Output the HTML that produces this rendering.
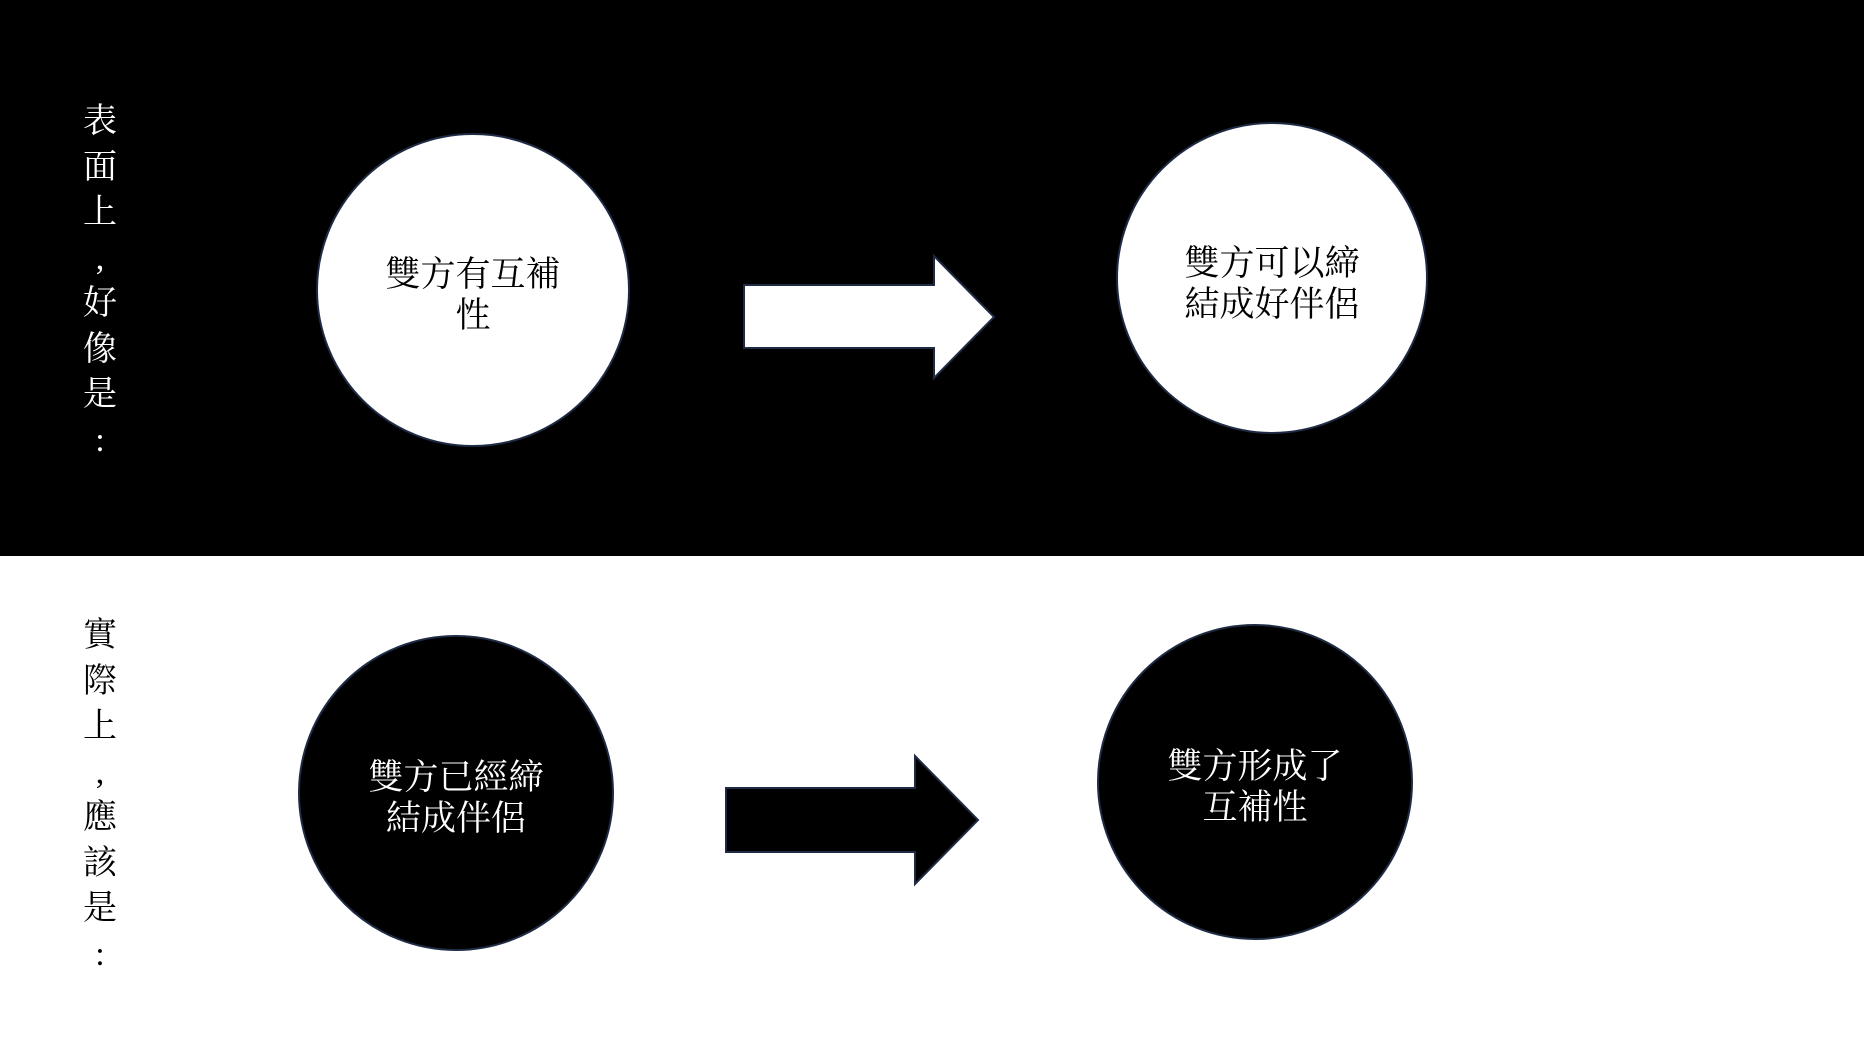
<!DOCTYPE html>
<html><head><meta charset="utf-8"><style>
body{margin:0;width:1864px;height:1047px;background:#fff;position:relative;overflow:hidden;font-family:"Liberation Serif","Noto Serif CJK SC","Noto Sans CJK TC",serif;}
.band{position:absolute;left:0;top:0;width:1864px;height:556px;background:#000;}
.c{position:absolute;border-radius:50%;box-sizing:border-box;border:2px solid #1f2a44;display:flex;align-items:center;justify-content:center;text-align:center;font-size:35px;line-height:41px;}
.v{position:absolute;left:80px;width:40px;text-align:center;font-size:34px;line-height:45.5px;}
</style></head><body>
<div class="band"></div>
<div class="v" style="top:99px;color:#fff">表<br>面<br>上<br>,<br>好<br>像<br>是<br>:</div>
<div class="v" style="top:613px;color:#000">實<br>際<br>上<br>,<br>應<br>該<br>是<br>:</div>
<div class="c" style="left:316px;top:133px;width:314px;height:314px;background:#fff;color:#000"><div style="margin-top:10px">雙方有互補<br>性</div></div>
<div class="c" style="left:1116px;top:122px;width:312px;height:312px;background:#fff;color:#000"><div style="margin-top:12px">雙方可以締<br>結成好伴侶</div></div>
<div class="c" style="left:298px;top:635px;width:316px;height:316px;background:#000;color:#fff"><div style="margin-top:10px">雙方已經締<br>結成伴侶</div></div>
<div class="c" style="left:1097px;top:624px;width:316px;height:316px;background:#000;color:#fff"><div style="margin-top:10px">雙方形成了<br>互補性</div></div>
<svg width="1864" height="1047" style="position:absolute;left:0;top:0">
<polygon points="744,285 934,285 934,256 994,317 934,378 934,348 744,348" fill="#fff" stroke="#1f2a44" stroke-width="2"/>
<polygon points="726,788 915,788 915,756 978,820 915,884 915,852 726,852" fill="#000" stroke="#1f2a44" stroke-width="2"/>
</svg>
</body></html>
